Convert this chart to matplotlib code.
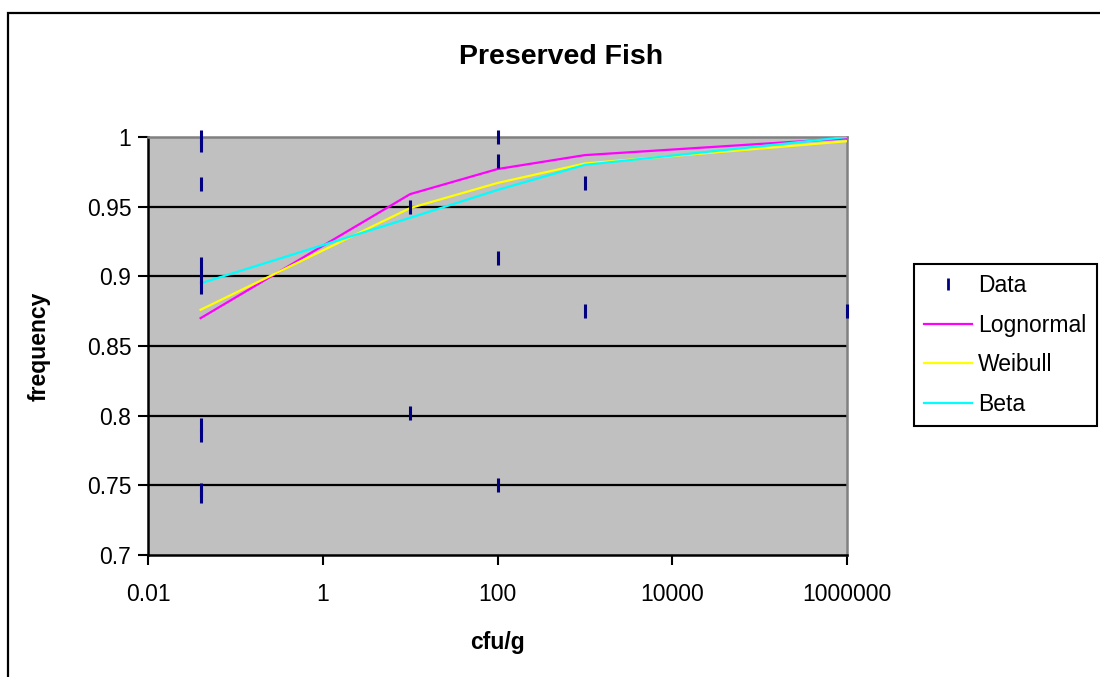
# Preserved Fish - observed frequencies vs fitted distributions

import numpy as np
import matplotlib.pyplot as plt
from matplotlib.patches import Rectangle
from matplotlib.lines import Line2D

plt.rcParams["font.family"] = ["Liberation Sans", "DejaVu Sans"]

# Data
data_x = [0.04, 0.04, 0.04, 0.04, 0.04, 0.04, 0.04, 0.04, 0.04, 0.04,
          10, 10,
          100, 100, 100, 100,
          1000, 1000,
          1e6]
data_y = [1.0, 0.994, 0.966, 0.909, 0.900, 0.892, 0.793, 0.786, 0.747, 0.742,
          0.950, 0.802,
          1.0, 0.983, 0.913, 0.750,
          0.967, 0.875,
          0.875]

fit_x = [0.04, 10, 100, 1000, 1e6]
lognormal = [0.870, 0.959, 0.977, 0.987, 0.999]
weibull = [0.876, 0.949, 0.967, 0.981, 0.997]
beta = [0.895, 0.942, 0.962, 0.980, 1.000]

x_ticks = [0.01, 1, 100, 10000, 1e6]
x_tick_labels = ["0.01", "1", "100", "10000", "1000000"]
y_ticks = [0.7, 0.75, 0.8, 0.85, 0.9, 0.95, 1.0]
y_tick_labels = ["0.7", "0.75", "0.8", "0.85", "0.9", "0.95", "1"]

# Plot
fig = plt.figure(figsize=(11, 6.77), dpi=100)
ax = fig.add_axes([148 / 1100, 1 - 555 / 677, 699 / 1100, 418 / 677])
ax.set_facecolor("#C0C0C0")

ax.set_xscale("log")
ax.set_xlim(0.01, 1e6)
ax.set_ylim(0.7, 1.0)

for y in y_ticks[1:-1]:
    ax.axhline(y, color="black", lw=1.6, zorder=1)

ax.plot(fit_x, lognormal, color="#FF00FF", lw=1.6, zorder=3)
ax.plot(fit_x, weibull, color="#FFFF00", lw=1.6, zorder=3)
ax.plot(fit_x, beta, color="#00FFFF", lw=1.6, zorder=3)
ax.plot(data_x, data_y, ls="none", marker="|", ms=10, mew=2.2,
        color="#000080", zorder=4, clip_on=False)

ax.xaxis.set_major_locator(plt.FixedLocator(x_ticks))
ax.xaxis.set_minor_locator(plt.NullLocator())
ax.set_xticklabels(x_tick_labels)
ax.set_yticks(y_ticks)
ax.set_yticklabels(y_tick_labels)
ax.tick_params(axis="both", direction="out", length=7, width=1.5,
               labelsize=16.5, colors="black", pad=5)
ax.tick_params(axis="x", pad=13)

for side in ["left", "bottom"]:
    ax.spines[side].set_color("black")
    ax.spines[side].set_linewidth(1.8)
for side in ["top", "right"]:
    ax.spines[side].set_color("#808080")
    ax.spines[side].set_linewidth(1.8)

ax.set_xlabel("cfu/g", fontsize=16.5, fontweight="bold", labelpad=18)
ax.set_ylabel("frequency", fontsize=16.5, fontweight="bold", labelpad=26)

fig.text(561 / 1100, 1 - 57 / 677, "Preserved Fish", fontsize=20.5,
         fontweight="bold", ha="center", va="center")

# outer chart border
fig.patches.append(Rectangle((8 / 1100, -0.05), 1.1, 1 - 13 / 677 + 0.05,
                             transform=fig.transFigure, fill=False,
                             edgecolor="black", lw=1.6))

handles = [
    Line2D([], [], ls="none", marker="|", ms=8, mew=2, color="#000080"),
    Line2D([], [], color="#FF00FF", lw=1.6),
    Line2D([], [], color="#FFFF00", lw=1.6),
    Line2D([], [], color="#00FFFF", lw=1.6),
]
leg = fig.legend(handles, ["Data", "Lognormal", "Weibull", "Beta"],
                 loc="upper left", bbox_to_anchor=(914 / 1100, 1 - 264 / 677),
                 fontsize=16.5, frameon=True, fancybox=False, framealpha=1,
                 edgecolor="black", handlelength=2.1, handletextpad=0.25,
                 labelspacing=0.72, borderpad=0.45, borderaxespad=0)
leg.get_frame().set_linewidth(1.5)

plt.savefig("out.png", dpi=100)
